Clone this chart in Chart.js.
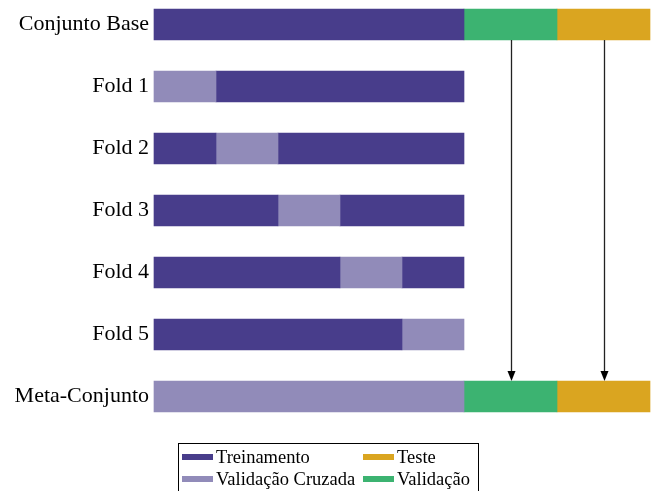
<!DOCTYPE html>
<html>
<head>
<meta charset="utf-8">
<script src="https://cdn.jsdelivr.net/npm/chart.js@4"></script>
<style>
  html, body { margin: 0; padding: 0; background: #fff; }
  #wrap { width: 655px; height: 491px; }
</style>
</head>
<body>
<div id="wrap"><canvas id="chart" width="655" height="491"></canvas></div>
<script>
// Linhas do diagrama (de cima para baixo)
const categorias = ['Conjunto Base', 'Fold 1', 'Fold 2', 'Fold 3', 'Fold 4', 'Fold 5', 'Meta-Conjunto'];

// Largura de cada segmento, na ordem em que são empilhados (null = sem segmento)
const treinoAntes = [10, null, 2, 4, 6, 8, null];
const validacaoCruzada = [null, 2, 2, 2, 2, 2, 10];
const treinoDepois = [null, 8, 6, 4, 2, null, null];
const validacao = [3, null, null, null, null, null, 3];
const teste = [3, null, null, null, null, null, 3];

const eixoX = { min: 0, max: 16 };

// Setas: centro dos segmentos de validação e teste
const setasX = [11.5, 14.5];

const cores = {
    treino: '#483d8b',
    cv: '#918bb9',
    validacao: '#3cb371',
    teste: '#daa520'
};

const fonteSerif = '"Liberation Serif", "DejaVu Serif", serif';

// Setas do Conjunto Base para o Meta-Conjunto
const arrowPlugin = {
    id: 'setas',
    afterDatasetsDraw(chart) {
        const { ctx, scales: { x, y } } = chart;
        const half = 15.5;
        const y0 = y.getPixelForValue(0) + half;
        const y1 = y.getPixelForValue(categorias.length - 1) - half;
        ctx.save();
        setasX.forEach(v => {
            const px = Math.round(x.getPixelForValue(v)) + 0.5;
            ctx.strokeStyle = '#222';
            ctx.lineWidth = 1.3;
            ctx.beginPath();
            ctx.moveTo(px, y0);
            ctx.lineTo(px, y1 - 9);
            ctx.stroke();
            ctx.fillStyle = '#000';
            ctx.beginPath();
            ctx.moveTo(px, y1);
            ctx.lineTo(px - 4, y1 - 10);
            ctx.lineTo(px + 4, y1 - 10);
            ctx.closePath();
            ctx.fill();
        });
        ctx.restore();
    }
};

// Legenda em duas colunas com moldura
const legendPlugin = {
    id: 'legendaCaixa',
    afterDraw(chart) {
        const ctx = chart.ctx;
        const itens = chart.data.datasets.filter(d => d.label);
        const ordem = ['Treinamento', 'Validação Cruzada', 'Teste', 'Validação'];
        const left = 178.5, top = 443.5, w = 300, h = 60;
        ctx.save();
        ctx.fillStyle = '#fff';
        ctx.fillRect(left, top, w, h);
        ctx.strokeStyle = '#000';
        ctx.lineWidth = 1;
        ctx.strokeRect(left, top, w, h);
        ctx.font = '18.5px ' + fonteSerif;
        ctx.textBaseline = 'middle';
        ordem.forEach((nome, i) => {
            const d = itens.find(it => it.label === nome);
            const col = Math.floor(i / 2), row = i % 2;
            const sx = col === 0 ? 182 : 363;
            const cy = row === 0 ? 457 : 479;
            ctx.fillStyle = d.backgroundColor;
            ctx.fillRect(sx, cy - 3, 31, 6);
            ctx.fillStyle = '#000';
            ctx.fillText(nome, sx + 34, cy + 1);
        });
        ctx.restore();
    }
};

function serie(label, data, cor) {
    return {
        label: label,
        data: data,
        backgroundColor: cor,
        borderWidth: 0,
        barThickness: 31,
        clip: false
    };
}

new Chart(document.getElementById('chart'), {
    type: 'bar',
    data: {
        labels: categorias,
        datasets: [
            serie('Treinamento', treinoAntes, cores.treino),
            serie('Validação Cruzada', validacaoCruzada, cores.cv),
            serie(null, treinoDepois, cores.treino),
            serie('Validação', validacao, cores.validacao),
            serie('Teste', teste, cores.teste)
        ]
    },
    options: {
        indexAxis: 'y',
        responsive: false,
        animation: false,
        layout: { padding: { left: 0, right: 5, top: 24.5, bottom: 94.5 } },
        plugins: {
            legend: { display: false },
            tooltip: { enabled: false }
        },
        scales: {
            x: {
                stacked: true,
                min: eixoX.min,
                max: eixoX.max,
                display: false
            },
            y: {
                stacked: true,
                offset: false,
                grid: { display: false, drawTicks: false },
                border: { display: false },
                ticks: {
                    color: '#000',
                    padding: 5,
                    font: { family: fonteSerif, size: 22 }
                },
                afterFit(scale) { scale.width = 154; }
            }
        }
    },
    plugins: [arrowPlugin, legendPlugin]
});
</script>
</body>
</html>
